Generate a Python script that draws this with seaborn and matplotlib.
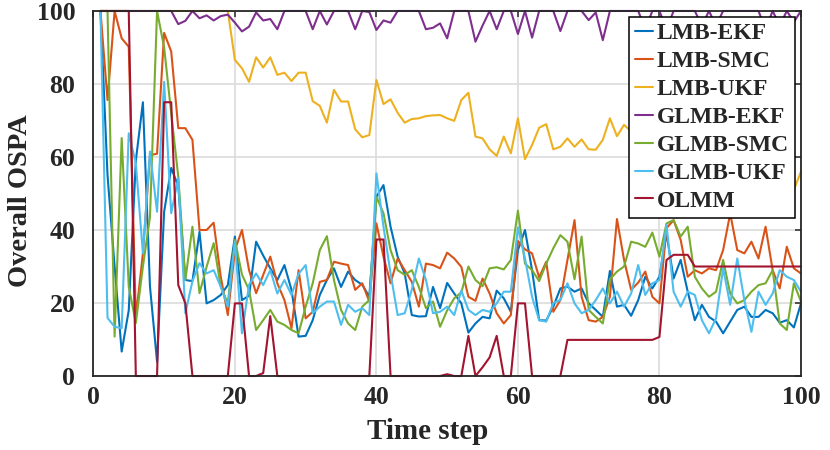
import matplotlib
matplotlib.use("Agg")
import matplotlib.pyplot as plt
import numpy as np
import pandas as pd
import seaborn as sns

# time steps 1..100
steps = list(range(1, 101))

lmb_ekf = [100, 55, 30, 6.7, 18, 59, 75, 24.5, 3.9, 45, 57, 52, 26.3, 26, 39.5, 19.9, 20.8, 22.2, 24.9, 38.2,
           20.8, 22, 36.8, 33, 29.5, 26.3, 30.4, 23.6, 10.8, 11, 15.3, 22.2, 26.3, 29.5, 24.4, 28.6, 26.3, 25, 21.7, 49.1,
           52.3, 40.9, 32.7, 28.1, 16.7, 16.3, 16.4, 24.4, 18.6, 25.5, 22.6, 19.9, 11.9, 14.4, 16.2, 15.8, 23.4, 21.3, 17.6, 34.5,
           40, 29, 15.3, 15.2, 19, 24, 24.5, 23.1, 24, 19.9, 18.1, 16.2, 28.8, 19, 19.5, 16.5, 20.8, 27.2, 24, 27.2,
           39.1, 26.7, 31.8, 23.1, 15.3, 19.5, 16.2, 14.9, 11.7, 14.9, 18.1, 19, 16.2, 16.2, 18.1, 17.2, 14.6, 15.3, 13.3, 19.9]

lmb_smc = [100, 75.6, 100, 92.5, 90.2, 16, 33.6, 60.5, 60.9, 94, 88.9, 67.9, 67.9, 64.7, 40, 40, 42, 27.2, 16.7, 34.5,
           40, 29, 22.7, 27.7, 32.7, 25.4, 20.8, 13.1, 29, 15.8, 17.6, 25.8, 26.3, 31.3, 30.8, 30.4, 23.6, 25.4, 20.4, 41.8,
           32.7, 25.4, 32.2, 29, 25.8, 19, 30.8, 30.4, 29.5, 33.8, 32.2, 29.9, 21.7, 20.6, 26.7, 22.6, 17.2, 14.4, 16.7, 37,
           34.7, 33.6, 27, 31.3, 17.6, 20.8, 31.8, 42.7, 21.7, 15.3, 14.9, 16.2, 21.7, 43, 31.8, 23.6, 25.6, 28.6, 21.7, 19.9,
           40.5, 42.7, 37.3, 27.2, 29, 28.1, 29.5, 29, 34.5, 44.5, 34.5, 33.6, 36.8, 32.2, 40.9, 29, 24, 35.4, 29.5, 28.1]

lmb_ukf = [100] * 19 + [
           86.6, 84.3, 80.6, 87.3, 84.5, 87.3, 82.5, 83.1, 80.8, 83.1, 83.1, 75.3, 74, 69.4, 78.4, 75.2, 75.2, 67.6, 65.4, 66,
           81.1, 74.5, 75.8, 72.1, 69.4, 70.4, 70.6, 71.2, 71.4, 71.5, 70.6, 69.9, 75.6, 77.6, 65.6, 65.1, 62.1, 60.3, 65.6, 61,
           70.6, 59.4, 63.3, 68, 69, 62.1, 62.8, 65.1, 62.8, 64.8, 62.1, 62, 64.7, 70.6, 65.7, 68.8, 67, 70, 66, 69,
           65, 68, 66, 64, 67, 65, 63, 66, 64, 62, 60, 63, 61, 59, 60, 58, 57, 56, 54, 51, 56]

glmb_ekf = [100] * 11 + [
            96.4, 97.3, 100, 98, 98.8, 97.4, 98.6, 99, 96.8, 94.4, 95.7, 99.6, 97.4, 97.8, 95, 100, 100, 100, 100,
            95, 100, 96.3, 100, 100, 100, 95, 100, 99.7, 94.8, 97.4, 96.8, 100, 100, 100, 100, 95, 95.4, 96.6, 92.5,
            100, 100, 100, 91.6, 96, 100, 95, 100, 100, 93.7, 100, 92.7, 100, 100, 100, 94.5, 100, 100, 100, 97.5,
            99.6, 92, 100, 100, 100, 100, 100, 95, 100, 100, 95, 100, 100, 100, 100, 96, 100, 96, 100, 100,
            100, 100, 100, 100, 95, 100, 96, 100, 97, 100]

glmb_smc = [100, 100, 10.8, 65.2, 24.5, 14.5, 30, 43.6, 100, 90, 72, 54.6, 26.3, 40.9, 22.7, 29.9, 36.4, 24.5, 19.9, 37.3,
            27.8, 23.6, 12.6, 15.3, 18.1, 14.9, 14, 12.6, 11.7, 19, 25.4, 34.5, 38.3, 26.3, 18.1, 14.4, 12.6, 19, 20.8, 49.1,
            44.6, 34.5, 29, 27.7, 29, 24.4, 18.6, 20.4, 13.5, 18, 21.3, 22.9, 30, 26.3, 24.6, 29.5, 29.8, 29.2, 31.8, 45.3,
            30.8, 29, 26, 30.8, 35, 38.6, 36.8, 26.5, 38.2, 18.1, 16.2, 14.4, 26.5, 28.6, 30, 36.8, 36.3, 35.4, 39.3, 32.7,
            41.8, 42.7, 38.2, 40.9, 27.2, 24, 21.7, 23.1, 31.8, 22.6, 19.9, 20.8, 23.1, 24.9, 25.4, 29, 14.4, 12.6, 25.4, 20.4]

glmb_ukf = [100, 15.9, 13.5, 13.1, 66.5, 58.3, 33.6, 61.5, 45, 80.6, 44.6, 54.2, 17.2, 26, 30.9, 28.1, 29, 24.5, 19, 36.8,
            11.7, 25, 28.1, 24.9, 29, 22.6, 26.3, 22.2, 28, 30.4, 17.2, 19, 20.4, 20.4, 14, 19.5, 17.6, 18.6, 16.7, 55.5,
            40.9, 28.1, 16.7, 17.2, 23.6, 32.2, 26.3, 17.2, 17.6, 19, 16.7, 23.4, 18.1, 16.7, 18.1, 17.6, 19.9, 23.1, 23.1, 40.7,
            32.2, 21.7, 15.3, 14.9, 20, 20.8, 25.4, 19.9, 17.2, 18.1, 20.8, 24, 19.9, 23.1, 19, 22.6, 30.4, 22.2, 25.4, 26.3,
            41.4, 23.1, 19, 23.1, 22.2, 15.3, 11.7, 15.8, 29.5, 19.5, 32.2, 20.8, 12.1, 23.1, 19.5, 22.6, 29, 27.2, 26.3, 23.1]

olmm = [100, 100, 100, 100, 100, 0, 0, 0, 0, 75, 75, 24.9, 19.9, 0, 0, 0, 0, 0, 0, 19.9,
        19.9, 0, 0, 0.8, 16.4, 0, 0, 0, 0, 0, 0, 0, 0, 0, 0, 0, 0, 0, 0, 37.4,
        37.4, 0, 0, 0, 0, 0, 0, 0, 0, 0.5, 0, 0, 11, 0, 2.4, 5.1, 11, 0, 0, 19.9,
        19.9, 0, 0, 0, 0, 0, 9.9, 9.9, 9.9, 9.9, 9.9, 9.9, 9.9, 9.9, 9.9, 9.9, 9.9, 9.9, 9.9, 10.7,
        31.8, 33.2, 33.2, 33.2, 30, 30, 30, 30, 30, 30, 30, 30, 30, 30, 30, 30, 30, 30, 30, 30]

names = ["LMB-EKF", "LMB-SMC", "LMB-UKF", "GLMB-EKF", "GLMB-SMC", "GLMB-UKF", "OLMM"]
colors = ["#0072BD", "#D95319", "#EDB120", "#7E2F8E", "#77AC30", "#4DBEEE", "#A2142F"]
series = [lmb_ekf, lmb_smc, lmb_ukf, glmb_ekf, glmb_smc, glmb_ukf, olmm]

df = pd.concat([pd.DataFrame({"step": steps, "ospa": s, "method": n})
                for n, s in zip(names, series)], ignore_index=True)

sns.set_theme(style="whitegrid")
plt.rcParams["font.family"] = ["Liberation Serif", "DejaVu Serif"]
plt.rcParams["font.weight"] = "bold"

fig = plt.figure(figsize=(8.3, 4.5), dpi=100)
ax = fig.add_axes([0.1125, 0.1644, 0.8525, 0.8112])

sns.lineplot(data=df, x="step", y="ospa", hue="method", hue_order=names,
             palette=colors, linewidth=1.5, errorbar=None, ax=ax)
for ln in ax.get_lines():
    ln.set_clip_on(False)

ax.set_xlim(0, 100)
ax.set_ylim(0, 100)
ax.set_xticks(range(0, 101, 20))
ax.set_yticks(range(0, 101, 20))
ax.grid(True, color="#dcdcdc", linewidth=1.2)
for sp in ax.spines.values():
    sp.set_visible(True)
    sp.set_color("#262626")
    sp.set_linewidth(1.3)
ax.tick_params(direction="in", length=4, width=1.1, color="#262626",
               top=True, right=True, labelsize=18.5, pad=7)
ax.tick_params(axis="y", pad=13)
for lab in ax.get_xticklabels() + ax.get_yticklabels():
    lab.set_fontweight("bold")
    lab.set_color("#262626")

ax.set_xlabel("Time step", fontsize=21, fontweight="bold", color="#262626")
ax.set_ylabel("Overall OSPA", fontsize=20.5, fontweight="bold", color="#262626")
ax.xaxis.set_label_coords(0.4726, -0.114)
ax.yaxis.set_label_coords(-0.0853, 0.48)

leg = ax.legend(loc="upper right", frameon=True, fancybox=False,
                framealpha=1, edgecolor="black", handlelength=0.8, handletextpad=0.15,
                labelspacing=0.27, borderpad=0.25, borderaxespad=0.25,
                prop={"family": "Liberation Serif", "weight": "bold", "size": 17})
leg.get_frame().set_linewidth(1.1)

fig.savefig("out.png", dpi=100)
